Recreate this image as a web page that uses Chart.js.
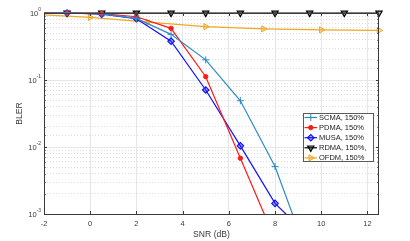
<!DOCTYPE html>
<html>
<head>
<meta charset="utf-8">
<script src="https://cdn.jsdelivr.net/npm/chart.js@4.4.0/dist/chart.umd.min.js"></script>
<style>
  html, body { margin: 0; padding: 0; background: #fff; }
</style>
</head>
<body>
<canvas id="blerChart" width="410" height="241"></canvas>
<script>
// SNR points (dB); the first point sits just left of the axis and is clipped
const snr = [-2.5, -1, 0.5, 2, 3.5, 5, 6.5, 8, 9.5, 11, 12.5];
const snrOfdm = [-2.5, 0, 2.5, 5, 7.5, 10, 12.5];

const scma = [1, 1, 0.97, 0.83, 0.48, 0.2, 0.049, 0.0051, 0.0002];
const pdma = [1, 1, 0.98, 0.88, 0.59, 0.112, 0.0068, 0.00042];
const musa = [1, 1, 0.96, 0.82, 0.38, 0.071, 0.0104, 0.00144, 0.00045];
const rdma = [1, 1, 1, 1, 1, 1, 1, 1, 1, 1, 1];
const ofdm = [0.96, 0.86, 0.73, 0.625, 0.58, 0.56, 0.55];

const seriesNames = ['SCMA, 150%', 'PDMA, 150%', 'MUSA, 150%', 'RDMA, 150%,', 'OFDM, 150%'];
const yDecades = [1e-3, 1e-2, 1e-1, 1];
const yExponents = ['-3', '-2', '-1', '0'];

const FONT = '"Liberation Sans", Arial, sans-serif';
const AXIS = '#3a3a3a';

function pts(xs, ys) {
    return ys.map((y, i) => ({ x: xs[i], y: y }));
}

function isDecade(v) {
    const l = Math.log10(v);
    return Math.abs(l - Math.round(l)) < 1e-6;
}

const baseSet = {
    borderWidth: 1.2,
    pointBorderWidth: 1,
    tension: 0,
    clip: { left: 0, right: 6, top: 8, bottom: 0 },
};

const data = {
    datasets: [
        { ...baseSet, label: seriesNames[0], data: pts(snr, scma), borderColor: '#2b8cc4',
          pointStyle: 'cross', pointRadius: 3.5, pointBackgroundColor: '#2b8cc4', pointBorderColor: '#2b8cc4' },
        { ...baseSet, label: seriesNames[1], data: pts(snr, pdma), borderColor: '#ff1a1a',
          pointStyle: 'circle', pointRadius: 2.2, pointBackgroundColor: '#ff1a1a', pointBorderColor: '#ff1a1a' },
        { ...baseSet, label: seriesNames[2], data: pts(snr, musa), borderColor: '#1010ff',
          pointStyle: 'rectRot', pointRadius: 3.2, pointBackgroundColor: 'rgba(16,16,255,0.35)', pointBorderColor: '#1010ff', pointBorderWidth: 1.2 },
        { ...baseSet, label: seriesNames[3], data: pts(snr, rdma), borderColor: '#000',
          pointStyle: 'triangle', pointRotation: 180, pointRadius: 3.6, pointBackgroundColor: 'rgba(0,0,0,0.3)', pointBorderColor: '#000', pointBorderWidth: 1.2 },
        { ...baseSet, label: seriesNames[4], data: pts(snrOfdm, ofdm), borderColor: '#eea821',
          pointStyle: 'triangle', pointRotation: 90, pointRadius: 3.6, pointBackgroundColor: 'rgba(238,168,33,0.35)', pointBorderColor: '#eea821' },
    ],
};

// box, inside tick marks, y labels with superscripts, legend
const framePlugin = {
    id: 'frame',
    afterDraw(chart) {
        const { ctx, chartArea: a, scales } = chart;
        const xs = scales.x, ys = scales.y;
        ctx.save();
        ctx.strokeStyle = AXIS;
        ctx.lineWidth = 1;
        ctx.strokeRect(Math.round(a.left) + 0.5, Math.round(a.top) + 0.5,
            Math.round(a.right - a.left) - 1, Math.round(a.bottom - a.top));

        ctx.beginPath();
        xs.ticks.forEach(t => {
            const px = Math.round(xs.getPixelForValue(t.value)) + 0.5;
            ctx.moveTo(px, a.bottom); ctx.lineTo(px, a.bottom - 3);
            ctx.moveTo(px, a.top); ctx.lineTo(px, a.top + 3);
        });
        ys.ticks.forEach(t => {
            const py = Math.round(ys.getPixelForValue(t.value)) + 0.5;
            const len = isDecade(t.value) ? 3 : 1.6;
            ctx.moveTo(a.left, py); ctx.lineTo(a.left + len, py);
            ctx.moveTo(a.right, py); ctx.lineTo(a.right - len, py);
        });
        ctx.stroke();

        ctx.fillStyle = AXIS;
        ctx.textBaseline = 'middle';
        yDecades.forEach((v, i) => {
            const py = ys.getPixelForValue(v);
            ctx.font = '5px ' + FONT;
            const ew = ctx.measureText(yExponents[i]).width;
            ctx.textAlign = 'left';
            const right = a.left - 3;
            ctx.fillText(yExponents[i], right - ew, py - 3);
            ctx.font = '7.5px ' + FONT;
            ctx.textAlign = 'right';
            ctx.fillText('10', right - ew, py + 0.5);
        });

        // legend
        const lx = 303, ly = 113, lw = 70, lh = 48, row = 10.1;
        ctx.fillStyle = '#fff';
        ctx.fillRect(lx, ly, lw, lh);
        ctx.strokeStyle = '#5a5a5a';
        ctx.strokeRect(lx + 0.5, ly + 0.5, lw, lh);
        chart.data.datasets.forEach((ds, i) => {
            const cy = ly + 4.5 + i * row;
            ctx.strokeStyle = ds.borderColor;
            ctx.lineWidth = ds.borderWidth;
            ctx.beginPath();
            ctx.moveTo(lx + 1.5, cy); ctx.lineTo(lx + 14, cy);
            ctx.stroke();
            ctx.fillStyle = ds.pointBackgroundColor;
            ctx.strokeStyle = ds.pointBorderColor;
            ctx.lineWidth = ds.pointBorderWidth;
            Chart.helpers.drawPoint(ctx, {
                pointStyle: ds.pointStyle, rotation: ds.pointRotation || 0,
                radius: ds.pointRadius, borderWidth: ds.pointBorderWidth,
            }, lx + 7.8, cy);
            ctx.fillStyle = '#222';
            ctx.font = '7.5px ' + FONT;
            ctx.textAlign = 'left';
            ctx.fillText(ds.label, lx + 16, cy + 0.5);
        });
        ctx.restore();
    },
};

const config = {
    type: 'line',
    data,
    options: {
        responsive: false,
        animation: false,
        layout: { padding: { left: 0, right: 31, top: 13, bottom: 0 } },
        plugins: { legend: { display: false }, tooltip: { enabled: false } },
        scales: {
            x: {
                type: 'linear',
                min: -2,
                max: 12.5,
                afterFit: s => { s.height = 27; },
                ticks: { stepSize: 2, includeBounds: false, padding: 5, color: AXIS,
                         font: { family: FONT, size: 7.5 } },
                grid: { color: '#e6e6e6', lineWidth: 1, drawTicks: false },
                border: { display: false },
                title: { display: true, text: 'SNR (dB)', color: AXIS, padding: { top: 0, bottom: 1 },
                         font: { family: FONT, size: 8.6 } },
            },
            y: {
                type: 'logarithmic',
                min: 1e-3,
                max: 1,
                afterFit: s => { s.width = 44; },
                ticks: { display: false, autoSkip: false },
                grid: {
                    drawTicks: false,
                    lineWidth: 1,
                    color: c => (c.tick && !isDecade(c.tick.value)) ? '#dedede' : '#e6e6e6',
                },
                border: {
                    display: false,
                    dash: c => (c.tick && !isDecade(c.tick.value)) ? [1, 2] : [],
                },
                title: { display: true, text: 'BLER', color: AXIS, padding: { top: 14, bottom: 0 },
                         font: { family: FONT, size: 8.6 } },
            },
        },
    },
    plugins: [framePlugin],
};

const blerChart = new Chart(document.getElementById('blerChart'), config);
</script>
</body>
</html>
